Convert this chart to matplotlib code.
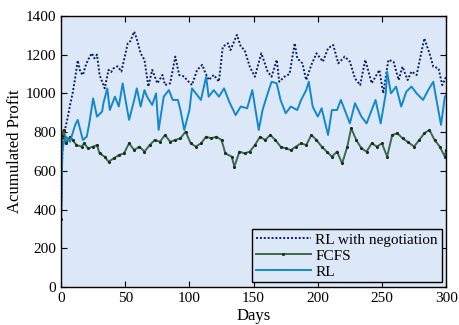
import matplotlib
matplotlib.use("Agg")
import matplotlib.pyplot as plt

# RL with negotiation
neg_days = [0, 1, 3, 5, 7, 9, 11, 13, 15, 17, 19, 21, 24, 26, 28, 30, 34, 37, 39, 41, 44, 47,
            50, 52, 54, 57, 59, 62, 65, 68, 71, 75, 79, 81, 85, 89, 92, 96, 98, 102, 106, 110,
            112, 115, 119, 123, 126, 130, 132, 137, 140, 143, 147, 151, 156, 161, 164, 168, 170,
            174, 178, 182, 184, 188, 191, 195, 199, 204, 208, 212, 216, 221, 225, 229, 233, 237,
            242, 248, 251, 255, 259, 263, 266, 270, 273, 277, 283, 287, 290, 294, 297, 300]
neg_vals = [360, 700, 811, 870, 940, 1000, 1080, 1170, 1110, 1095, 1140, 1173, 1207, 1181, 1200,
            1095, 1026, 1121, 1110, 1130, 1140, 1113, 1200, 1259, 1270, 1319, 1281, 1207, 1173,
            1035, 1121, 1052, 1095, 1043, 1052, 1190, 1095, 1087, 1069, 1043, 1121, 1147, 1113,
            1069, 1095, 1061, 1241, 1259, 1224, 1302, 1242, 1224, 1138, 1086, 1207, 1112, 1086,
            1173, 1060, 1086, 1100, 1259, 1181, 1155, 1069, 1147, 1207, 1164, 1233, 1250, 1155,
            1190, 1164, 1077, 1043, 1173, 1052, 1121, 1000, 1173, 1164, 1069, 1138, 1069, 1113,
            1095, 1284, 1207, 1138, 1130, 1043, 1086]

# FCFS
fcfs_days = [0, 1, 2, 4, 7, 9, 12, 16, 18, 21, 25, 28, 30, 34, 37, 41, 45, 49, 53, 57, 61, 65,
             69, 73, 77, 81, 85, 89, 93, 97, 101, 105, 109, 113, 117, 121, 125, 128, 133, 135,
             139, 143, 147, 151, 155, 159, 163, 167, 171, 175, 179, 183, 187, 191, 195, 199, 203,
             207, 211, 215, 219, 223, 226, 230, 234, 238, 242, 246, 250, 254, 258, 262, 266, 270,
             275, 279, 283, 287, 291, 295, 299, 300]
fcfs_vals = [350, 780, 811, 742, 776, 759, 733, 725, 742, 716, 725, 733, 690, 673, 647, 664, 681,
             690, 742, 707, 725, 699, 733, 759, 750, 785, 750, 759, 768, 802, 742, 725, 742, 776,
             768, 776, 759, 690, 673, 621, 699, 690, 699, 733, 776, 759, 785, 759, 725, 716, 707,
             725, 742, 733, 785, 759, 725, 699, 673, 699, 638, 725, 820, 759, 716, 699, 742, 725,
             742, 673, 785, 794, 768, 750, 725, 759, 794, 811, 759, 725, 673, 707]

# RL
rl_days = [0, 1, 2, 4, 7, 11, 13, 17, 20, 22, 25, 28, 32, 33, 36, 38, 42, 45, 48, 50, 53, 57,
           59, 62, 65, 67, 71, 74, 76, 80, 84, 87, 91, 93, 96, 100, 102, 105, 109, 113, 115, 119,
           123, 127, 131, 136, 140, 145, 149, 154, 157, 161, 164, 168, 171, 175, 179, 184, 187,
           191, 193, 196, 200, 203, 208, 211, 215, 218, 222, 225, 229, 234, 238, 242, 245, 249,
           253, 254, 257, 261, 265, 269, 273, 277, 282, 286, 290, 292, 296, 299, 300]
rl_vals = [380, 700, 742, 776, 750, 837, 863, 759, 776, 845, 974, 880, 906, 949, 1026, 914, 983,
           932, 1052, 974, 863, 966, 1026, 932, 1017, 983, 940, 1000, 811, 983, 1017, 966, 966,
           914, 811, 914, 1026, 1000, 966, 1086, 983, 1017, 983, 1026, 957, 888, 932, 923, 1017,
           811, 914, 1000, 1060, 1052, 966, 897, 932, 914, 966, 1017, 1060, 932, 880, 923, 785,
           914, 914, 966, 897, 845, 949, 880, 845, 914, 966, 845, 1000, 1112, 1000, 1035, 932,
           1009, 1035, 1000, 966, 1017, 1060, 983, 837, 983, 990]

plt.rcParams['font.family'] = 'Liberation Serif'

fig = plt.figure(figsize=(4.59, 3.25), dpi=100)
ax = fig.add_axes([0.133, 0.117, 0.839, 0.834])
ax.set_facecolor('#dce8f7')

ax.plot(neg_days, neg_vals, linestyle=(0, (1, 1)), color='#0e1f63', lw=1.4,
        label='RL with negotiation')
ax.plot(fcfs_days, fcfs_vals, '-', color='#3a6b4c', lw=1.4, marker='.', markersize=2.5,
        markeredgecolor='#1a2e20', markerfacecolor='#1a2e20', label='FCFS')
ax.plot(rl_days, rl_vals, '-', color='#1488cc', lw=1.4, label='RL')

ax.set_xlim(0, 300)
ax.set_ylim(0, 1400)
ax.set_xticks(range(0, 301, 50))
ax.set_yticks(range(0, 1401, 200))
ax.tick_params(direction='in', top=True, right=True, labelsize=11, length=4, width=0.8)
for s in ax.spines.values():
    s.set_linewidth(1.0)

ax.set_xlabel('Days', fontsize=12, labelpad=2)
ax.set_ylabel('Acumulated Profit', fontsize=12, labelpad=2)

leg = ax.legend(loc='lower right', fontsize=11, fancybox=False, framealpha=1,
                edgecolor='black', facecolor='#dce8f7', borderpad=0.25, labelspacing=0.15,
                handlelength=3.6, handletextpad=0.3, borderaxespad=0.3)
leg.get_frame().set_linewidth(1.0)

fig.savefig('out.png', dpi=100)
